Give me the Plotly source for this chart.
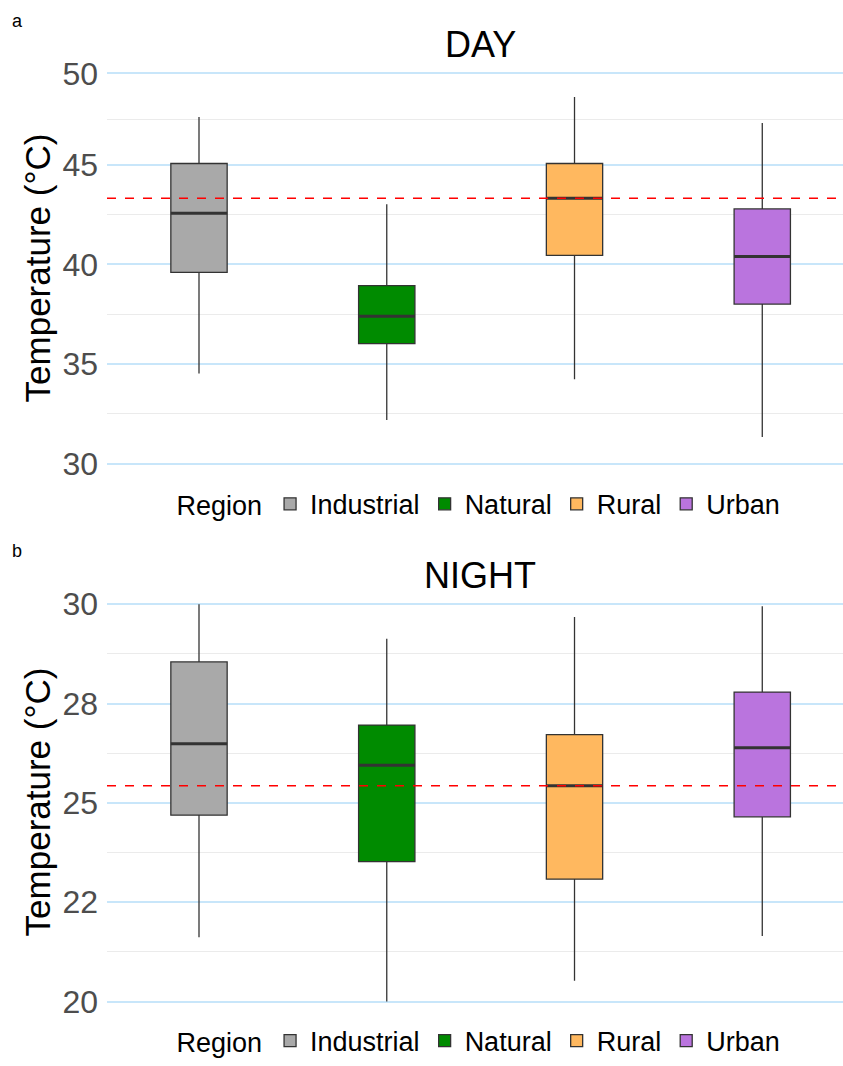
import plotly.graph_objects as go

regions = ["Industrial", "Natural", "Rural", "Urban"]
colors = ["#A9A9A9", "#008B00", "#FFB85F", "#BA74DE"]

day_upper = [47.41, 43.03, 48.41, 47.11]
day_q3 = [45.07, 38.94, 45.07, 42.79]
day_median = [42.57, 37.40, 43.33, 40.40]
day_q1 = [39.60, 36.02, 40.46, 38.01]
day_lower = [34.53, 32.19, 34.23, 31.34]
day_ref = 43.33

night_upper = [30.0, 29.13, 29.68, 29.95]
night_q3 = [28.55, 26.96, 26.72, 27.79]
night_median = [26.49, 25.95, 25.43, 26.39]
night_q1 = [24.69, 23.52, 23.08, 24.65]
night_lower = [21.62, 20.0, 20.52, 21.65]
night_ref = 25.43

day_tickvals = [30, 35, 40, 45, 49.6]
day_ticktext = ["30", "35", "40", "45", "50"]
day_minor = [32.5, 37.5, 42.5, 47.3]
night_tickvals = [20, 22.5, 25, 27.5, 30]
night_ticktext = ["20", "22", "25", "28", "30"]
night_minor = [21.25, 23.75, 26.25, 28.75]

W, H = 843, 1066
FONT = "Liberation Sans, Arial, sans-serif"
BOXW = 0.3

fig = go.Figure()

panels = [
    ("x", "y", "legend", day_lower, day_q1, day_median, day_q3, day_upper),
    ("x2", "y2", "legend2", night_lower, night_q1, night_median, night_q3, night_upper),
]
for xa, ya, lg, lo, q1, med, q3, up in panels:
    for i, r in enumerate(regions):
        fig.add_trace(go.Box(
            x=[i], q1=[q1[i]], median=[med[i]], q3=[q3[i]],
            lowerfence=[lo[i]], upperfence=[up[i]],
            width=BOXW, fillcolor=colors[i], whiskerwidth=0,
            line=dict(color="#333333", width=1.3),
            name=r, xaxis=xa, yaxis=ya, legend=lg, boxpoints=False,
            hoverinfo="skip"))
    for i, r in enumerate(regions):
        fig.add_trace(go.Scatter(
            x=[i - BOXW / 2, i + BOXW / 2], y=[med[i], med[i]], mode="lines",
            line=dict(color="#333333", width=3), showlegend=False,
            xaxis=xa, yaxis=ya, hoverinfo="skip"))

fig.add_shape(type="line", xref="x domain", yref="y", x0=0, x1=1, y0=day_ref, y1=day_ref,
              line=dict(color="red", width=1.5, dash="dash"))
fig.add_shape(type="line", xref="x2 domain", yref="y2", x0=0, x1=1, y0=night_ref, y1=night_ref,
              line=dict(color="red", width=1.5, dash="dash"))

xdom = [107 / W, 1]
xcommon = dict(domain=xdom, range=[-0.49, 3.43], showticklabels=False, showgrid=False,
               zeroline=False, showline=False, ticks="")
ycommon = dict(showline=False, zeroline=False, ticks="", gridcolor="#C8E6FA", gridwidth=2,
               tickfont=dict(size=32, color="#4D4D4D", family=FONT), ticklabelstandoff=8,
               automargin=False)

legcommon = dict(orientation="h", xanchor="center", x=480 / W, yanchor="middle",
                 font=dict(size=27, color="black", family=FONT),
                 title=dict(text="Region", side="left", font=dict(size=27, color="black", family=FONT)),
                 bgcolor="rgba(0,0,0,0)", itemwidth=30)

fig.update_layout(
    width=W, height=H, margin=dict(l=0, r=0, t=0, b=0),
    paper_bgcolor="white", plot_bgcolor="white", boxmode="overlay",
    font=dict(family=FONT),
    xaxis=dict(**xcommon, anchor="y"),
    xaxis2=dict(**xcommon, anchor="y2"),
    yaxis=dict(**ycommon, anchor="x", domain=[(H - 472) / H, (H - 70) / H], range=[29.8, 49.8],
               tickmode="array", tickvals=day_tickvals, ticktext=day_ticktext,
               minor=dict(tickmode="array", tickvals=day_minor, showgrid=True,
                          gridcolor="#EBEBEB", gridwidth=1, ticks="")),
    yaxis2=dict(**ycommon, anchor="x2", domain=[(H - 1015) / H, (H - 606) / H], range=[19.9, 30.1],
                tickmode="array", tickvals=night_tickvals, ticktext=night_ticktext,
                minor=dict(tickmode="array", tickvals=night_minor, showgrid=True,
                           gridcolor="#EBEBEB", gridwidth=1, ticks="")),
    legend=dict(**legcommon, y=(H - 509) / H),
    legend2=dict(**legcommon, y=(H - 1051) / H),
    showlegend=True,
)

ann = [
    dict(text="DAY", x=480 / W, y=(H - 45) / H, size=36),
    dict(text="NIGHT", x=480 / W, y=(H - 581) / H, size=36),
    dict(text="a", x=17 / W, y=(H - 21) / H, size=18),
    dict(text="b", x=17 / W, y=(H - 556) / H, size=18),
]
for a in ann:
    fig.add_annotation(text=a["text"], x=a["x"], y=a["y"], xref="paper", yref="paper",
                       xanchor="center", yanchor="middle", showarrow=False,
                       font=dict(size=a["size"], color="black", family=FONT))
for yc in [(H - 271) / H, (H - 810) / H]:
    fig.add_annotation(text="Temperature (°C)", x=37 / W, y=yc, xref="paper", yref="paper",
                       xanchor="center", yanchor="middle", showarrow=False, textangle=-90,
                       font=dict(size=35, color="black", family=FONT))

fig.write_html("out.html")
